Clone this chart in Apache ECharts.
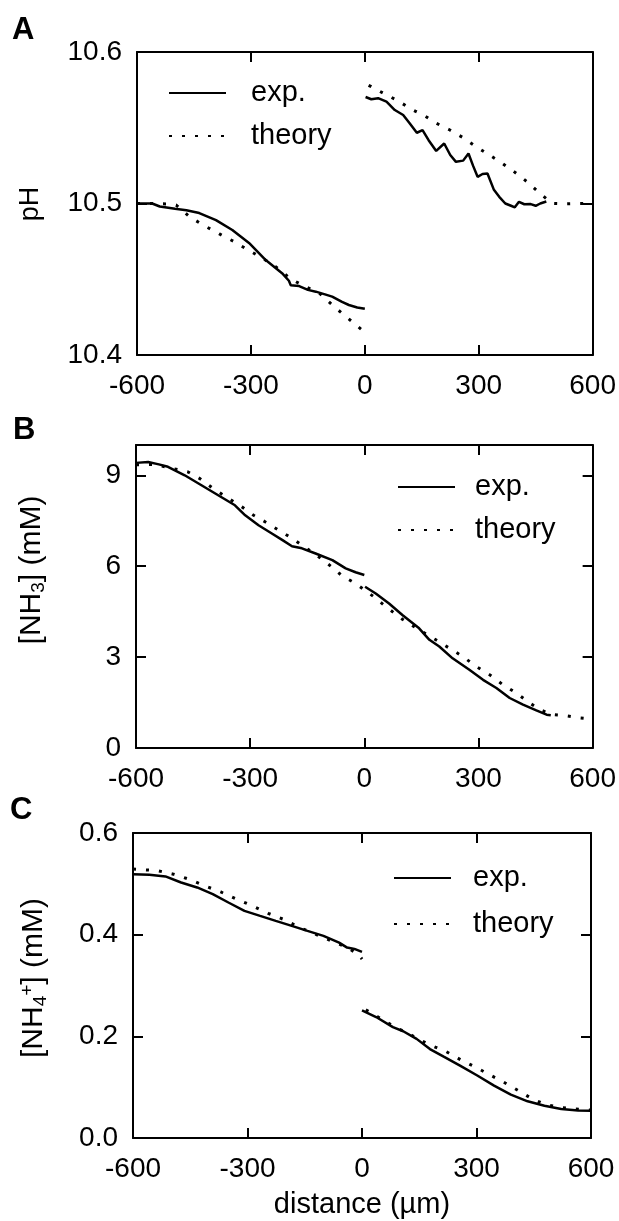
<!DOCTYPE html>
<html>
<head>
<meta charset="utf-8">
<script src="https://cdn.jsdelivr.net/npm/echarts@6/dist/echarts.min.js"></script>
<style>
  html, body { margin: 0; padding: 0; background: #fff; }
  #chart { width: 619px; height: 1221px; }
</style>
</head>
<body>
<div id="chart"></div>
<script>
// ---------- data (x = distance in µm) ----------
const xTicks = [-600, -300, 0, 300, 600];

// Panel A: pH
const phExpLeft = [[-600,10.500],[-560,10.500],[-540,10.498],[-500,10.4965],[-470,10.4956],[-436,10.4937],[-392,10.489],[-349,10.4825],[-305,10.474],[-261,10.4627],[-218,10.454],[-200,10.449],[-195,10.446],[-173,10.4455],[-150,10.443],[-129,10.4418],[-105,10.440],[-86,10.4385],[-60,10.435],[-42,10.433],[-20,10.4314],[0,10.4305]];
const phExpRight = [[2,10.5703],[17,10.5688],[35,10.5695],[57,10.5672],[79,10.5617],[101,10.5584],[118,10.553],[137,10.5467],[152,10.5484],[168,10.5418],[188,10.5347],[209,10.5396],[225,10.532],[240,10.5275],[259,10.5283],[273,10.533],[285,10.525],[297,10.5176],[310,10.5195],[323,10.5198],[340,10.509],[354,10.5044],[370,10.500],[385,10.4985],[395,10.4975],[406,10.5011],[420,10.4995],[437,10.4996],[450,10.4985],[462,10.500],[478,10.5013]];
const phTheoryLeft = [[-600,10.500],[-560,10.500],[-522,10.4997],[-497,10.499],[-462,10.4913],[-423,10.4854],[-383,10.4799],[-344,10.4748],[-307,10.4693],[-270,10.464],[-235,10.4583],[-195,10.4502],[-160,10.4455],[-120,10.4409],[-81,10.4319],[-45,10.4244],[0,10.415]];
const phTheoryRight = [[10,10.578],[17,10.5771],[54,10.5721],[88,10.5677],[123,10.5622],[158,10.5578],[189,10.5529],[224,10.5485],[259,10.5434],[290,10.538],[325,10.5325],[360,10.5269],[393,10.521],[427,10.5144],[461,10.5067],[493,10.5001],[526,10.4998],[560,10.500],[600,10.500]];

// Panel B: [NH3] (mM)
const nh3ExpLeft = [[-600,9.41],[-568,9.44],[-540,9.36],[-516,9.28],[-472,9.00],[-428,8.67],[-384,8.34],[-340,8.01],[-313,7.68],[-278,7.35],[-243,7.08],[-215,6.86],[-190,6.66],[-164,6.59],[-128,6.42],[-84,6.20],[-49,5.93],[-23,5.80],[0,5.71]];
const nh3ExpRight = [[2,5.32],[30,5.10],[65,4.77],[100,4.39],[144,3.95],[171,3.57],[197,3.35],[232,2.96],[276,2.58],[312,2.25],[347,1.98],[382,1.65],[417,1.43],[452,1.24],[479,1.10],[490,1.08]];
const nh3Theory = [[-600,9.35],[-551,9.36],[-502,9.22],[-463,9.11],[-432,8.89],[-397,8.56],[-366,8.31],[-322,7.96],[-291,7.68],[-260,7.46],[-225,7.19],[-190,6.92],[-155,6.62],[-120,6.31],[-88,6.00],[-58,5.68],[-23,5.43],[0,5.22],[25,4.99],[56,4.67],[100,4.25],[140,3.93],[188,3.57],[224,3.29],[259,3.02],[294,2.69],[329,2.42],[364,2.09],[400,1.81],[435,1.48],[466,1.24],[496,1.10],[532,1.06],[567,0.99],[600,0.95]];

// Panel C: [NH4+] (mM)
const nh4ExpLeft = [[-600,0.519],[-557,0.518],[-515,0.5146],[-474,0.5027],[-432,0.4929],[-391,0.4797],[-350,0.4633],[-308,0.4469],[-267,0.437],[-226,0.4272],[-184,0.4173],[-143,0.4074],[-101,0.3976],[-60,0.3844],[-39,0.3746],[-20,0.372],[0,0.366]];
const nh4ExpRight = [[0,0.251],[37,0.238],[81,0.218],[108,0.210],[143,0.195],[178,0.175],[214,0.160],[258,0.142],[302,0.123],[346,0.103],[390,0.0854],[434,0.0722],[478,0.0636],[522,0.057],[566,0.0543],[600,0.0536]];
const nh4TheoryLeft = [[-600,0.529],[-536,0.526],[-494,0.519],[-453,0.509],[-412,0.496],[-370,0.484],[-329,0.470],[-288,0.457],[-246,0.442],[-205,0.430],[-163,0.414],[-122,0.401],[-81,0.388],[-39,0.375],[-8,0.360],[0,0.352]];
const nh4TheoryRight = [[10,0.252],[40,0.239],[80,0.221],[120,0.206],[150,0.194],[178,0.183],[221,0.170],[258,0.154],[296,0.140],[333,0.125],[371,0.110],[408,0.094],[446,0.077],[480,0.066],[521,0.060],[560,0.057],[600,0.055]];

// ---------- styling ----------
const FONT = 'Liberation Sans';
const FS = 28;
const grids = [
  { left: 137, top: 52, width: 457, height: 303 },
  { left: 136, top: 445, width: 457, height: 303 },
  { left: 133, top: 833, width: 458, height: 305 }
];
const yCfg = [
  { min: 10.4, max: 10.6, interval: 0.1, fmt: v => v.toFixed(1) },
  { min: 0, max: 10, interval: 3, fmt: v => (v > 9.5 ? '' : String(v)) },
  { min: 0, max: 0.6, interval: 0.2, fmt: v => v.toFixed(1) }
];
const line = { show: true, onZero: false, lineStyle: { color: '#000', width: 2 } };
const tick = { show: true, inside: true, length: 10, lineStyle: { color: '#000', width: 2 } };
const lbl = { color: '#000', fontFamily: FONT, fontSize: FS };

const xAxes = [], yAxes = [];
grids.forEach((g, i) => {
  xAxes.push({ type: 'value', gridIndex: i, position: 'bottom', min: -600, max: 600, interval: 300,
    axisLine: line, axisTick: tick, splitLine: { show: false },
    axisLabel: Object.assign({ margin: 17 }, lbl),
    name: i === 2 ? 'distance (µm)' : '', nameLocation: 'middle', nameGap: 52,
    nameTextStyle: { color: '#000', fontFamily: FONT, fontSize: 29 } });
  xAxes.push({ type: 'value', gridIndex: i, position: 'top', min: -600, max: 600, interval: 300,
    axisLine: line, axisTick: tick, splitLine: { show: false }, axisLabel: { show: false } });
  const c = yCfg[i];
  yAxes.push({ type: 'value', gridIndex: i, position: 'left', min: c.min, max: c.max, interval: c.interval,
    axisLine: line, axisTick: tick, splitLine: { show: false },
    axisLabel: Object.assign({ margin: 15, formatter: c.fmt }, lbl) });
  yAxes.push({ type: 'value', gridIndex: i, position: 'right', min: c.min, max: c.max, interval: c.interval,
    axisLine: line, axisTick: tick, splitLine: { show: false }, axisLabel: { show: false } });
});

const expStyle = { color: '#000', width: 2.5, type: 'solid' };
const thStyle = { color: '#000', width: 3, type: [3, 10], cap: 'butt' };
function ser(name, data, gi, style) {
  return { type: 'line', name, data, xAxisIndex: gi * 2, yAxisIndex: gi * 2,
    showSymbol: false, symbol: 'none', smooth: false, lineStyle: style, itemStyle: { color: '#000' },
    animation: false, silent: true, z: name === 'exp.' ? 3 : 2 };
}
const series = [
  ser('exp.', phExpLeft, 0, expStyle), ser('exp.', phExpRight, 0, expStyle),
  ser('theory', phTheoryLeft, 0, thStyle), ser('theory', phTheoryRight, 0, thStyle),
  ser('exp.', nh3ExpLeft, 1, expStyle), ser('exp.', nh3ExpRight, 1, expStyle),
  ser('theory', nh3Theory, 1, thStyle),
  ser('exp.', nh4ExpLeft, 2, expStyle), ser('exp.', nh4ExpRight, 2, expStyle),
  ser('theory', nh4TheoryLeft, 2, thStyle), ser('theory', nh4TheoryRight, 2, thStyle)
];

function legend(left, top, gap, textPad) {
  return { data: ['exp.', 'theory'], orient: 'vertical', left, top, padding: 0,
    itemWidth: 57, itemHeight: 14, itemGap: gap, selectedMode: false,
    itemStyle: { opacity: 0 },
    textStyle: { color: '#000', fontFamily: FONT, fontSize: 29, lineHeight: 32, padding: [0, 0, 0, textPad] } };
}

const titleStyle = { color: '#000', fontFamily: FONT, fontSize: 31, fontWeight: 'bold' };
const nameStyle = { fill: '#000', font: '30px "' + FONT + '"', align: 'center', verticalAlign: 'middle' };
const rich = {
  sub: { fontSize: 19, fontFamily: FONT, verticalAlign: 'bottom', lineHeight: 17, fill: '#000' },
  sup: { fontSize: 19, fontFamily: FONT, verticalAlign: 'top', lineHeight: 17, fill: '#000' }
};

const option = {
  backgroundColor: '#fff',
  animation: false,
  title: [
    { text: 'A', left: 12, top: 15, padding: 0, textStyle: titleStyle },
    { text: 'B', left: 13, top: 415, padding: 0, textStyle: titleStyle },
    { text: 'C', left: 10, top: 795, padding: 0, textStyle: titleStyle }
  ],
  grid: grids.map(g => Object.assign({ containLabel: false }, g)),
  xAxis: xAxes,
  yAxis: yAxes,
  legend: [legend(168, 77, 11, 20), legend(397, 471, 11, 15), legend(393, 862, 14, 17)],
  graphic: [
    { type: 'text', x: 31, y: 204, rotation: Math.PI / 2, style: Object.assign({ text: 'pH' }, nameStyle, { font: '27px "' + FONT + '"' }) },
    { type: 'text', x: 32, y: 570, rotation: Math.PI / 2, style: Object.assign({ text: '[NH{sub|3}] (mM)', rich, lineHeight: 32 }, nameStyle) },
    { type: 'text', x: 34, y: 978, rotation: Math.PI / 2, style: Object.assign({ text: '[NH{sub|4}{sup|+}] (mM)', rich, lineHeight: 32 }, nameStyle) }
  ],
  series
};

const chart = echarts.init(document.getElementById('chart'), null, { renderer: 'canvas' });
chart.setOption(option);
</script>
</body>
</html>
